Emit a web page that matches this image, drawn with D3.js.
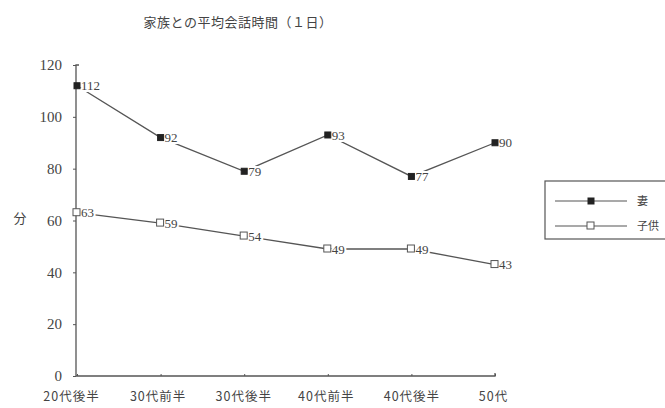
<!DOCTYPE html>
<html>
<head>
<meta charset="utf-8">
<script src="https://cdn.jsdelivr.net/npm/d3@7"></script>
<style>
  body { margin: 0; background: #fff; }
  svg { display: block; }
  text { fill: #444; }
</style>
</head>
<body>
<svg id="chart" width="665" height="408"></svg>
<script>
const categories = ["20代後半", "30代前半", "30代後半", "40代前半", "40代後半", "50代"];
const wifeValues = [112, 92, 79, 93, 77, 90];
const childValues = [63, 59, 54, 49, 49, 43];
const seriesNames = ["妻", "子供"];
const yTicks = [0, 20, 40, 60, 80, 100, 120];

const svg = d3.select("#chart");
const jp = "'Noto Sans CJK JP', sans-serif";
const num = "'Liberation Serif', 'DejaVu Serif', serif";
const ink = "#555";

const x = d3.scalePoint().domain(categories).range([77, 495]).padding(0);
const y = d3.scaleLinear().domain([0, 120]).range([376, 65]);

// title
svg.append("text")
  .attr("x", 238).attr("y", 27)
  .attr("text-anchor", "middle")
  .style("font-family", jp).style("font-size", "13px")
  .style("letter-spacing", "0.5px")
  .text("家族との平均会話時間（１日）");

// y axis
const yAxis = svg.append("g")
  .attr("transform", "translate(76,0)")
  .call(d3.axisLeft(y).tickValues(yTicks).tickSize(3).tickPadding(11));
yAxis.select(".domain").attr("stroke", ink).attr("stroke-width", 1.3).attr("d", "M3,65H0V376");
yAxis.selectAll(".tick line").attr("stroke", ink);
yAxis.selectAll(".tick text")
  .style("font-family", num).style("font-size", "15px").attr("fill", "#444");

svg.append("text")
  .attr("x", 20).attr("y", 223)
  .attr("text-anchor", "middle")
  .style("font-family", jp).style("font-size", "13px")
  .text("分");

// x axis
const xAxis = svg.append("g")
  .attr("transform", "translate(0,376)")
  .call(d3.axisBottom(x).tickSize(-2).tickPadding(16));
xAxis.select(".domain").attr("stroke", ink).attr("stroke-width", 1.3).attr("d", "M76,0H495V-3");
xAxis.selectAll(".tick line").attr("stroke", ink);
xAxis.selectAll(".tick text")
  .attr("dx", (d, i) => [-6, -3, -1, -2, 0, -2][i])
  .style("font-family", jp).style("font-size", "12.5px")
  .style("letter-spacing", "1px").attr("fill", "#444");

const line = d3.line().x((d, i) => x(categories[i])).y(d => y(d));

function drawSeries(values, filled) {
  svg.append("path")
    .datum(values)
    .attr("fill", "none")
    .attr("stroke", ink)
    .attr("stroke-width", 1.3)
    .attr("d", line);

  svg.selectAll(null)
    .data(values)
    .join("text")
    .attr("x", (d, i) => x(categories[i]) + 4)
    .attr("y", d => y(d))
    .attr("dy", "0.35em")
    .attr("stroke", "#fff").attr("stroke-width", 4).attr("paint-order", "stroke")
    .style("font-family", num).style("font-size", "13px")
    .text(d => d);

  svg.selectAll(null)
    .data(values)
    .join("rect")
    .attr("x", (d, i) => x(categories[i]) - (filled ? 3 : 4))
    .attr("y", d => y(d) - (filled ? 3 : 4))
    .attr("width", filled ? 6 : 7)
    .attr("height", filled ? 6 : 7)
    .attr("fill", filled ? "#222" : "#fff")
    .attr("stroke", filled ? "#222" : ink)
    .attr("stroke-width", 1);
}

drawSeries(wifeValues, true);
drawSeries(childValues, false);

// legend
const legend = svg.append("g");
legend.append("rect")
  .attr("x", 545).attr("y", 181).attr("width", 125).attr("height", 58)
  .attr("fill", "#fff").attr("stroke", ink).attr("stroke-width", 1.2);

seriesNames.forEach((name, i) => {
  const ly = 201 + i * 25;
  legend.append("line")
    .attr("x1", 555).attr("x2", 627).attr("y1", ly).attr("y2", ly)
    .attr("stroke", ink).attr("stroke-width", 1.2);
  legend.append("rect")
    .attr("x", i === 0 ? 588 : 587).attr("y", ly - (i === 0 ? 3 : 4))
    .attr("width", i === 0 ? 6 : 7).attr("height", i === 0 ? 6 : 7)
    .attr("fill", i === 0 ? "#222" : "#fff")
    .attr("stroke", i === 0 ? "#222" : ink);
  legend.append("text")
    .attr("x", 637).attr("y", ly).attr("dy", "0.35em")
    .style("font-family", jp).style("font-size", "11px")
    .text(name);
});
</script>
</body>
</html>
